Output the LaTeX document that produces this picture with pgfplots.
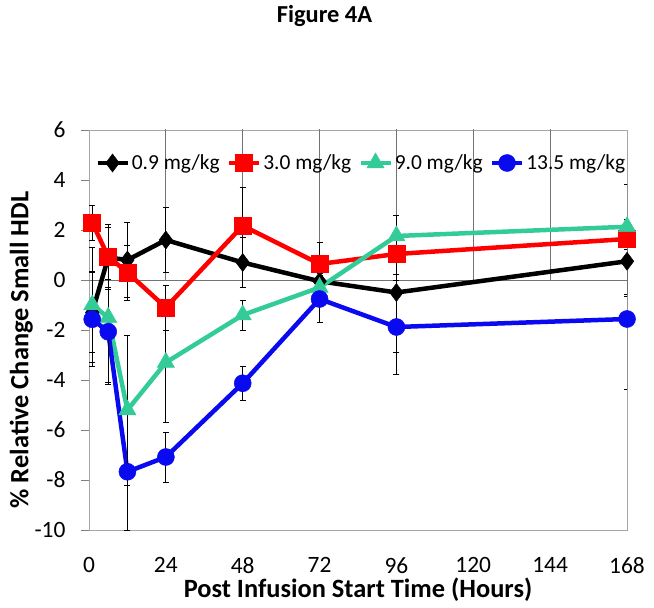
\documentclass[border=0pt]{standalone}
\usepackage{fontspec}
\setmainfont{Carlito}
\usepackage{pgfplots}
\pgfplotsset{compat=1.18}
\definecolor{cgreen}{RGB}{51,204,153}
\definecolor{cblue}{RGB}{10,10,240}
\definecolor{cred}{RGB}{255,0,0}
\begin{document}
\begin{tikzpicture}
\begin{axis}[name=ax, scale only axis, width=538bp, height=400bp,
  xmin=0, xmax=168, ymin=-10, ymax=6,
  xtick={0,24,...,168}, ytick={-10,-8,...,6},
  /pgf/number format/assume math mode=true,
  axis line style={draw=black!35, line width=0.8bp},
  tick align=outside, ytick pos=left, xtick pos=bottom,
  x tick style={draw=none}, y tick style={black!50, line width=0.8bp}, major tick length=8bp,
  tick label style={font=\fontsize{23.5}{23.5}\selectfont},
  xticklabel style={inner sep=0pt, yshift=-19bp},
  yticklabel style={xshift=-12bp},
  xlabel={Post Infusion Start Time (Hours)},
  ylabel={\% Relative Change Small HDL},
  label style={font=\fontsize{26.5}{26.5}\selectfont\bfseries},
  xlabel style={inner sep=0pt, yshift=-4bp},
  ylabel style={at={(ticklabel cs:0.45)}, yshift=-5bp},
  legend style={at={(0.506,0.9175)}, anchor=center, draw=none, fill=none,
    font=\fontsize{21.5}{21.5}\selectfont, inner sep=0pt,
    /tikz/every even column/.append style={column sep=5bp}},
  legend columns=4,
  legend image code/.code={\draw[mark repeat=2,mark phase=2,#1] plot coordinates {(0bp,0bp)(15bp,0bp)(30bp,0bp)};},
  error bars/error bar style={black, line width=0.8bp},
  error bars/error mark options={black, rotate=90, mark size=3bp, line width=0.8bp},
]
\draw[black!55, line width=0.8bp] (axis cs:0,0) -- (axis cs:168,0);
\pgfplotsinvokeforeach{24,48,72,96,120,144}{\draw[black!55, line width=0.8bp] (axis cs:#1,0) -- ++(0,-8bp);}

\addplot[black, line width=4.5bp, mark=diamond*, mark size=9bp, mark options={line width=0.5bp},
  error bars/.cd, y dir=both, y explicit] coordinates {
  (1,-1.3) +- (0,1.6)
  (6,0.9) +- (0,1.2)
  (12,0.8) +- (0,1.5)
  (24,1.6) +- (0,1.3)
  (48,0.7) +- (0,1.0)
  (72,-0.05) +- (0,0.3)
  (96,-0.5) +- (0,2.4)
  (168,0.75) +- (0,1.4)
};
\addlegendentry{0.9 mg/kg}

\addplot[cred, line width=4.5bp, mark=square*, mark size=8.5bp, mark options={line width=0.5bp},
  error bars/.cd, y dir=both, y explicit] coordinates {
  (1,2.3) +- (0,0.7)
  (6,0.93) +- (0,1.3)
  (12,0.3) +- (0,1.1)
  (24,-1.1) +- (0,0.9)
  (48,2.17) +- (0,1.55)
  (72,0.64) +- (0,0.88)
  (96,1.04) +- (0,0.8)
  (168,1.64) +- (0,2.2)
};
\addlegendentry{3.0 mg/kg}

\addplot[cgreen, line width=4.5bp, mark=triangle*, mark size=10bp, mark options={line width=0.5bp},
  error bars/.cd, y dir=both, y explicit] coordinates {
  (1,-1.0) +- (0,2.3)
  (6,-1.5) +- (0,2.6)
  (12,-5.2) +- (0,3.0)
  (24,-3.3) +- (0,2.4)
  (48,-1.4) +- (0,0.6)
  (72,-0.3) +- (0,0.3)
  (96,1.76) +- (0,0.84)
  (168,2.13) +- (0,0.3)
};
\addlegendentry{9.0 mg/kg}

\addplot[cblue, line width=4.5bp, mark=*, mark size=8.5bp, mark options={line width=0.5bp},
  error bars/.cd, y dir=both, y explicit] coordinates {
  (1,-1.57) +- (0,1.9)
  (6,-2.07) +- (0,2.1)
  (12,-7.67) +- (0,2.33)
  (24,-7.08) +- (0,1.0)
  (48,-4.13) +- (0,0.67)
  (72,-0.76) +- (0,0.94)
  (96,-1.88) +- (0,1.88)
  (168,-1.56) +- (0,2.8)
};
\addlegendentry{13.5 mg/kg}
\end{axis}
\node[anchor=base, font=\fontsize{24.5}{24.5}\selectfont\bfseries] at ([shift={(235.5bp,107bp)}]ax.north west) {Figure 4A};
\pgfresetboundingbox
\path ([shift={(-89bp,-78bp)}]ax.south west) rectangle ([shift={(27bp,130bp)}]ax.north east);
\end{tikzpicture}
\end{document}
